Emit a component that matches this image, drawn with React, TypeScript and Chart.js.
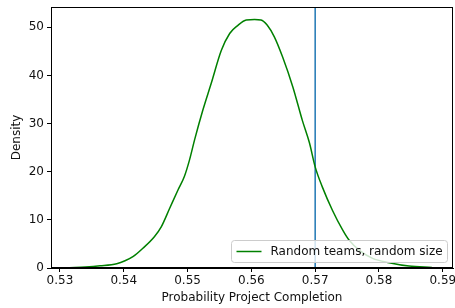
import React, { useEffect, useRef } from 'react';
import { Chart, registerables } from 'chart.js';

Chart.register(...registerables);

const xValues = [
  0.5315, 0.5340, 0.5363, 0.5389, 0.5402, 0.5415, 0.5430, 0.5448, 0.5459, 0.5472,
  0.5485, 0.5495, 0.5503, 0.5511, 0.5524, 0.5537, 0.5553, 0.5566, 0.5579, 0.5592,
  0.5605, 0.5615, 0.5625, 0.5636, 0.5649, 0.5665, 0.5680, 0.5691, 0.5700, 0.5711,
  0.5727, 0.5743, 0.5753, 0.5770, 0.5790, 0.5816, 0.5847, 0.5883,
];
const densityValues = [
  0.05, 0.2, 0.45, 0.9, 1.5, 2.4, 4.1, 6.5, 8.6, 12.4,
  16.2, 19.0, 22.4, 26.6, 32.8, 38.3, 45.2, 48.7, 50.4, 51.5,
  51.6, 51.5, 50.4, 48.0, 43.8, 37.6, 30.6, 26.0, 21.0, 16.9,
  12.0, 7.9, 5.8, 3.6, 2.0, 1.1, 0.4, 0.12,
];
const xTickValues = [0.53, 0.54, 0.55, 0.56, 0.57, 0.58, 0.59];
const yTickValues = [0, 10, 20, 30, 40, 50];
const referenceX = 0.57;
const seriesLabel = 'Random teams, random size';
const xAxisTitle = 'Probability Project Completion';
const yAxisTitle = 'Density';
const xMin = 0.5286;
const xMax = 0.5916;
const yMin = 0;
const yMax = 54.2;

const FONT = 'DejaVu Sans';
const FS = 12;
const TEXT = '#111111';
const GREEN = '#008000';
const BLUE = '#1f77b4';

const framePlugin = {
  id: 'frame',
  afterDatasetsDraw(chart: any) {
    const { ctx, chartArea } = chart;
    const l = Math.round(chartArea.left) + 0.5;
    const t = Math.round(chartArea.top) + 0.5;
    const r = Math.round(chartArea.right) - 0.5;
    const b = Math.round(chartArea.bottom) - 0.5;
    ctx.save();
    ctx.strokeStyle = '#000';
    ctx.lineWidth = 1;
    ctx.strokeRect(l, t, r - l, b - t);
    ctx.restore();
  },
};

const legendPlugin = {
  id: 'innerLegend',
  afterDraw(chart: any) {
    const { ctx, chartArea } = chart;
    ctx.save();
    ctx.font = `${FS}px "${FONT}"`;
    const textW = ctx.measureText(seriesLabel).width;
    const boxRight = Math.round(chartArea.right - 6) + 0.5;
    const boxBottom = Math.round(chartArea.bottom - 6) + 0.5;
    const boxW = textW + 44;
    const boxH = 22;
    const boxLeft = Math.round(boxRight - boxW) + 0.5;
    const boxTop = boxBottom - boxH;
    const rad = 3;
    ctx.beginPath();
    ctx.moveTo(boxLeft + rad, boxTop);
    ctx.lineTo(boxRight - rad, boxTop);
    ctx.quadraticCurveTo(boxRight, boxTop, boxRight, boxTop + rad);
    ctx.lineTo(boxRight, boxBottom - rad);
    ctx.quadraticCurveTo(boxRight, boxBottom, boxRight - rad, boxBottom);
    ctx.lineTo(boxLeft + rad, boxBottom);
    ctx.quadraticCurveTo(boxLeft, boxBottom, boxLeft, boxBottom - rad);
    ctx.lineTo(boxLeft, boxTop + rad);
    ctx.quadraticCurveTo(boxLeft, boxTop, boxLeft + rad, boxTop);
    ctx.closePath();
    ctx.fillStyle = 'rgba(255,255,255,0.8)';
    ctx.fill();
    ctx.strokeStyle = '#cccccc';
    ctx.lineWidth = 1;
    ctx.stroke();
    const midY = boxTop + boxH / 2;
    ctx.beginPath();
    ctx.moveTo(boxLeft + 5, midY);
    ctx.lineTo(boxLeft + 30, midY);
    ctx.strokeStyle = GREEN;
    ctx.lineWidth = 1.5;
    ctx.stroke();
    ctx.fillStyle = TEXT;
    ctx.textBaseline = 'middle';
    ctx.textAlign = 'left';
    ctx.fillText(seriesLabel, boxLeft + 39, midY);
    ctx.restore();
  },
};

export default function App() {
  const canvasRef = useRef<HTMLCanvasElement | null>(null);

  useEffect(() => {
    if (!canvasRef.current) return;
    const curve = xValues.map((x, i) => ({ x, y: densityValues[i] }));
    const vline = [
      { x: referenceX, y: yMin },
      { x: referenceX, y: yMax },
    ];
    const chart = new Chart(canvasRef.current, {
      type: 'scatter',
      data: {
        datasets: [
          {
            label: seriesLabel,
            data: curve,
            showLine: true,
            borderColor: GREEN,
            backgroundColor: GREEN,
            borderWidth: 1.5,
            pointRadius: 0,
            cubicInterpolationMode: 'monotone',
            fill: false,
          },
          {
            label: 'reference',
            data: vline,
            showLine: true,
            borderColor: BLUE,
            backgroundColor: BLUE,
            borderWidth: 1.5,
            pointRadius: 0,
            fill: false,
          },
        ],
      },
      plugins: [framePlugin, legendPlugin],
      options: {
        responsive: false,
        animation: false,
        layout: { padding: { top: 7, right: 2, left: 0, bottom: 0 } },
        plugins: {
          legend: { display: false },
          tooltip: { enabled: false },
          title: { display: false },
        },
        scales: {
          x: {
            type: 'linear',
            min: xMin,
            max: xMax,
            afterFit: (s: any) => {
              s.height = 40;
              s.paddingLeft = 0;
              s.paddingRight = 0;
            },
            afterBuildTicks: (s: any) => {
              s.ticks = xTickValues.map((v) => ({ value: v }));
            },
            grid: {
              display: true,
              drawOnChartArea: false,
              drawTicks: true,
              tickLength: 4,
              color: '#000',
              lineWidth: 1,
            },
            border: { display: true, color: '#000', width: 1 },
            ticks: {
              color: TEXT,
              font: { family: FONT, size: FS },
              padding: 2,
              maxRotation: 0,
              autoSkip: false,
              callback: (v: any) => Number(v).toFixed(2),
            },
            title: {
              display: true,
              text: xAxisTitle,
              color: TEXT,
              font: { family: FONT, size: FS },
              padding: { top: 0, bottom: 3 },
            },
          },
          y: {
            type: 'linear',
            min: yMin,
            max: yMax,
            afterFit: (s: any) => {
              s.width = 51;
              s.paddingTop = 0;
              s.paddingBottom = 0;
            },
            afterBuildTicks: (s: any) => {
              s.ticks = yTickValues.map((v) => ({ value: v }));
            },
            grid: {
              display: true,
              drawOnChartArea: false,
              drawTicks: true,
              tickLength: 4,
              color: '#000',
              lineWidth: 1,
            },
            border: { display: true, color: '#000', width: 1 },
            ticks: {
              color: TEXT,
              font: { family: FONT, size: FS },
              padding: 3,
              autoSkip: false,
              callback: (v: any) => String(v),
            },
            title: {
              display: true,
              text: yAxisTitle,
              color: TEXT,
              font: { family: FONT, size: FS },
              padding: { top: 9.5, bottom: 0 },
            },
          },
        },
      },
    } as any);
    return () => chart.destroy();
  }, []);

  return (
    <div style={{ position: 'absolute', left: 0, top: 0, width: 455, height: 308 }}>
      <canvas ref={canvasRef} width={455} height={308} style={{ width: 455, height: 308 }} />
    </div>
  );
}
